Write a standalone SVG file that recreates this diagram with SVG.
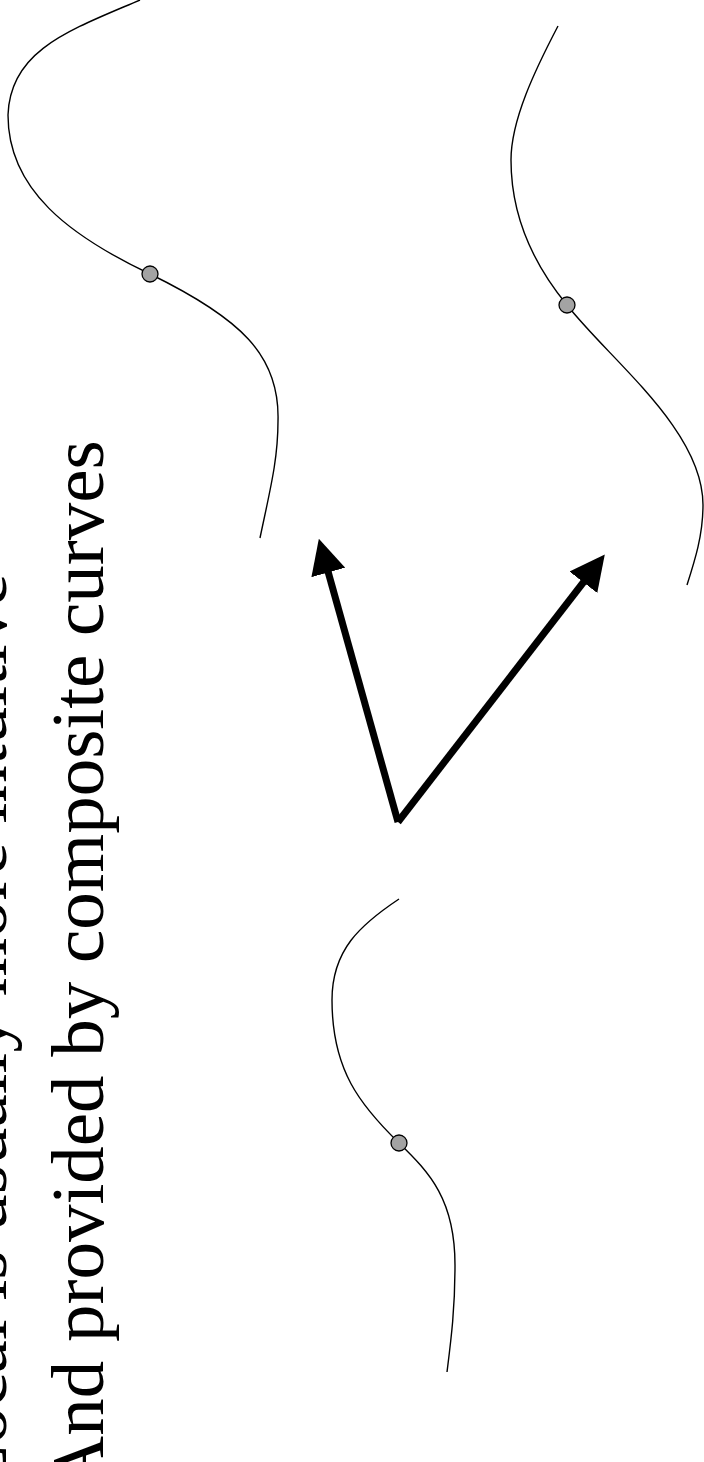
<svg xmlns="http://www.w3.org/2000/svg" width="704" height="1462" viewBox="0 0 704 1462">
<style>
.lbl{font-family:"Liberation Serif","Times New Roman",serif;font-size:75px;fill:#000}
.crv{fill:none;stroke:#000;stroke-width:1.4}
.pt{fill:#a3a3a3;stroke:#000;stroke-width:1.3}
.arr{fill:none;stroke:#000;stroke-width:7;stroke-linecap:butt}
</style>
<defs>
<marker id="ah" markerUnits="userSpaceOnUse" viewBox="0 0 35 35" markerWidth="35" markerHeight="35" refX="1" refY="17.5" orient="auto">
<path d="M0,0 L35,17.5 L0,35 z" fill="#000"/>
</marker>
</defs>
<rect width="704" height="1462" fill="#fff"/>
<g id="text">
<text class="lbl" transform="translate(6,1490) rotate(-90)">Local is usually more intuitive</text>
<text class="lbl" transform="translate(103,1490) rotate(-90)">And provided by composite curves</text>
</g>
<g id="curve-left">
<path class="crv" d="M140,0 C70,30 10,50 8,115 C8,190 70,236 150,274 C240,318 280,355 278,421 C278,460 270,490 260,538"/>
<circle class="pt" cx="150" cy="274" r="8"/>
</g>
<g id="curve-right">
<path class="crv" d="M558,26 C535,70 511,120 511,160 C511,210 530,260 567,305 C610,360 703,430 703,505 C703,535 695,560 687,585"/>
<circle class="pt" cx="567" cy="305" r="8"/>
</g>
<g id="curve-bottom">
<path class="crv" d="M399,899 C360,925 332,950 332,1000 C332,1070 360,1105 399,1143 C430,1173 455,1200 455,1265 C455,1310 451,1340 447,1372"/>
<circle class="pt" cx="399" cy="1143" r="8"/>
</g>
<g id="connectors">
<path class="arr" d="M398,822 L328,571.5" marker-end="url(#ah)"/>
<path class="arr" d="M398,822 L584,581.5" marker-end="url(#ah)"/>
</g>
</svg>
